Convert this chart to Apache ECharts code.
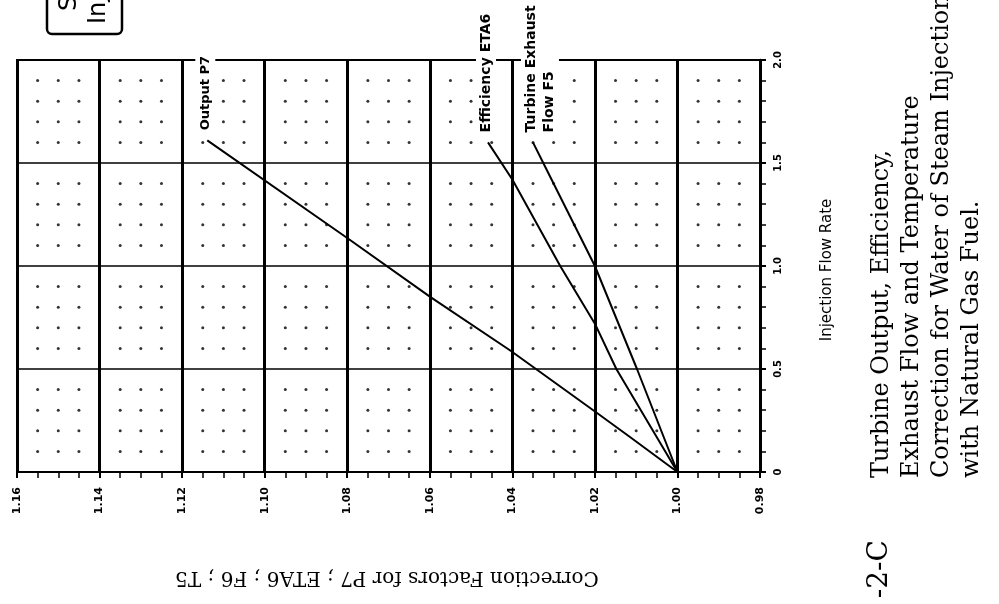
<!DOCTYPE html>
<html>
<head>
<meta charset="utf-8">
<script src="https://cdn.jsdelivr.net/npm/echarts@6/dist/echarts.min.js"></script>
<style>
  html, body { margin: 0; padding: 0; background: #fff; }
  #chart { width: 999px; height: 604px; }
</style>
</head>
<body>
<div id="chart"></div>
<script>
// Correction factor axis (runs right-to-left) and injection flow rate axis
const factorMin = 0.98, factorMax = 1.16, factorStep = 0.02;
const flowMin = 0, flowMax = 2.0, flowStep = 0.5;

// Curves as [correction factor, injection flow rate]
const outputP7 = [[1.000, 0], [1.0115, 0.17], [1.0204, 0.30], [1.0405, 0.59], [1.0599, 0.85], [1.0800, 1.136], [1.1139, 1.61]];
const efficiencyETA6 = [[1.000, 0], [1.0148, 0.50], [1.0200, 0.72], [1.0284, 1.00], [1.0400, 1.42], [1.0459, 1.60]];
const exhaustFlowF5 = [[1.000, 0], [1.0098, 0.50], [1.0200, 1.00], [1.0325, 1.50], [1.0350, 1.60]];

const curveNames = ['Output P7', 'Efficiency ETA6', 'Turbine Exhaust\nFlow F5'];
const curveFontSizes = [13, 14, 14];
const factorAxisTitle = 'Correction Factors for P7 ; ETA6 ; F6 ; T5';
const flowAxisTitle = 'Injection Flow Rate';
const captionLines = [
  'Turbine Output, Efficiency,',
  'Exhaust Flow and Temperature',
  'Correction for Water of Steam Injection',
  'with Natural Gas Fuel.'
];
const figureNumber = '-2-C';
const boxLines = ['Steam', 'Injection'];

// Dot raster at every minor grid intersection
const gridDots = [];
const minorX = factorStep / 4, minorY = flowStep / 5;
for (let i = 1; i < Math.round((factorMax - factorMin) / minorX); i++) {
  if (i % 4 === 0) continue;
  for (let j = 1; j < Math.round((flowMax - flowMin) / minorY); j++) {
    if (j % 5 === 0) continue;
    gridDots.push([factorMin + i * minorX, flowMin + j * minorY]);
  }
}

const chart = echarts.init(document.getElementById('chart'), null, { renderer: 'canvas' });
const black = '#000';

function curve(data) {
  return {
    type: 'line', data: data, symbol: 'none', silent: true, z: 5,
    lineStyle: { color: black, width: 2 }
  };
}

chart.setOption({
  backgroundColor: '#fff',
  animation: false,
  grid: { left: 17, right: 239, top: 60, bottom: 132, show: true, borderColor: black, borderWidth: 2, backgroundColor: 'transparent' },
  xAxis: {
    type: 'value', min: factorMin, max: factorMax, interval: factorStep, inverse: true, position: 'bottom',
    axisLine: { show: true, lineStyle: { color: black, width: 2 } },
    axisTick: { show: true, length: 6, lineStyle: { color: black, width: 2 } },
    minorTick: { show: true, splitNumber: 4, length: 6, lineStyle: { color: black, width: 1.5 } },
    splitLine: { show: true, lineStyle: { color: black, width: 3 } },
    axisLabel: {
      rotate: 90, margin: 15, color: black, fontSize: 11, fontWeight: 'bold', fontFamily: 'DejaVu Sans',
      formatter: v => v.toFixed(2)
    }
  },
  yAxis: {
    type: 'value', min: flowMin, max: flowMax, interval: flowStep, position: 'right',
    axisLine: { show: true, lineStyle: { color: black, width: 2.5 } },
    axisTick: { show: true, length: 6, lineStyle: { color: black, width: 2 } },
    minorTick: { show: true, splitNumber: 5, length: 6, lineStyle: { color: black, width: 1.5 } },
    splitLine: { show: true, lineStyle: { color: black, width: 1.5 } },
    axisLabel: {
      rotate: 90, margin: 13, color: black, fontSize: 10, fontWeight: 'bold', fontFamily: 'DejaVu Sans',
      formatter: v => (v === 0 ? '0' : v.toFixed(1))
    }
  },
  series: [
    {
      type: 'scatter', data: gridDots, symbol: 'circle', symbolSize: 3, silent: true, z: 3,
      itemStyle: { color: black }
    },
    curve(outputP7),
    curve(efficiencyETA6),
    curve(exhaustFlowF5)
  ]
});

// Curve labels start just past each curve's last point and run upward
const curves = [outputP7, efficiencyETA6, exhaustFlowF5];
const labelGraphics = curves.map((c, k) => {
  const end = chart.convertToPixel('grid', c[c.length - 1]);
  const multi = curveNames[k].indexOf('\n') >= 0;
  return {
    type: 'text', z: 20, silent: true,
    x: end[0] + (multi ? -12 : -2), y: end[1] - 8, rotation: Math.PI / 2,
    style: {
      text: curveNames[k], fill: black, font: 'bold ' + curveFontSizes[k] + 'px "DejaVu Sans"',
      align: 'left', verticalAlign: multi ? 'top' : 'middle', lineHeight: 18,
      backgroundColor: '#fff', padding: [1, 2]
    }
  };
});

chart.setOption({
  graphic: labelGraphics.concat([
    {
      type: 'text', x: 387, y: 577, rotation: Math.PI, silent: true,
      style: { text: factorAxisTitle, fill: black, font: '20px "DejaVu Serif"', align: 'center', verticalAlign: 'middle' }
    },
    {
      type: 'text', x: 827, y: 270, rotation: Math.PI / 2, silent: true,
      style: { text: flowAxisTitle, fill: black, font: '15px "DejaVu Sans"', align: 'center', verticalAlign: 'middle' }
    },
    {
      type: 'text', x: 867, y: 478, rotation: Math.PI / 2, silent: true,
      style: { text: captionLines.join('\n'), fill: black, font: '24px "DejaVu Serif"', align: 'left', verticalAlign: 'top', lineHeight: 30 }
    },
    {
      type: 'text', x: 880, y: 540, rotation: Math.PI / 2, silent: true,
      style: { text: figureNumber, fill: black, font: '28px "DejaVu Serif"', align: 'right', verticalAlign: 'middle' }
    },
    {
      type: 'rect', silent: true,
      shape: { x: 47, y: -10, width: 75, height: 44, r: 5 },
      style: { fill: 'none', stroke: black, lineWidth: 2.5 }
    },
    {
      type: 'text', x: 70, y: 11, rotation: Math.PI / 2, silent: true,
      style: { text: boxLines[0], fill: black, font: '24px "DejaVu Sans"', align: 'left', verticalAlign: 'middle' }
    },
    {
      type: 'text', x: 99, y: 24, rotation: Math.PI / 2, silent: true,
      style: { text: boxLines[1], fill: black, font: '24px "DejaVu Sans"', align: 'left', verticalAlign: 'middle' }
    }
  ])
});
</script>
</body>
</html>
